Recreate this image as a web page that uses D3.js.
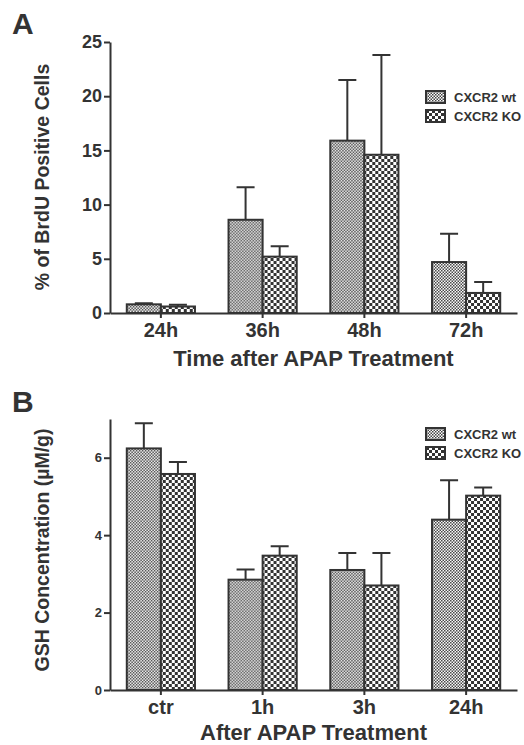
<!DOCTYPE html>
<meta charset="utf-8">
<style>
body { margin: 0; background: #fff; }
svg { font-family: "Liberation Sans", Arial, sans-serif; font-weight: bold; }
.axis path, .axis line { stroke: #333; stroke-width: 2px; }
.axis text { fill: #333; font-weight: bold; }
.bar { stroke: #333; stroke-width: 2px; }
.err { stroke: #333; stroke-width: 2px; fill: none; }
.title { fill: #333; }
</style>
<body>
<script src="https://cdn.jsdelivr.net/npm/d3@7"></script>
<script>
var series = ["CXCR2 wt", "CXCR2 KO"];

// panel A: BrdU
var catsA = ["24h", "36h", "48h", "72h"];
var wtA = [0.8, 8.6, 15.9, 4.7];
var wtErrA = [0.1, 3.0, 5.6, 2.6];
var koA = [0.6, 5.2, 14.6, 1.85];
var koErrA = [0.15, 0.95, 9.2, 1.0];
var ticksA = [0, 5, 10, 15, 20, 25];

// panel B: GSH
var catsB = ["ctr", "1h", "3h", "24h"];
var wtB = [6.24, 2.85, 3.1, 4.4];
var wtErrB = [0.65, 0.26, 0.44, 1.02];
var koB = [5.58, 3.47, 2.7, 5.02];
var koErrB = [0.31, 0.24, 0.84, 0.21];
var ticksB = [0, 2, 4, 6];

var width = 524, height = 745;

var svg = d3.select("body").append("svg")
    .attr("width", width)
    .attr("height", height);

var defs = svg.append("defs");
var pw = defs.append("pattern").attr("id", "pwt")
    .attr("patternUnits", "userSpaceOnUse").attr("width", 3).attr("height", 3);
pw.append("rect").attr("width", 3).attr("height", 3).attr("fill", "#fff");
pw.append("rect").attr("width", 1.5).attr("height", 1.5).attr("fill", "#444");
pw.append("rect").attr("x", 1.5).attr("y", 1.5).attr("width", 1.5).attr("height", 1.5).attr("fill", "#444");

var pk = defs.append("pattern").attr("id", "pko")
    .attr("patternUnits", "userSpaceOnUse").attr("width", 6).attr("height", 6);
pk.append("rect").attr("width", 6).attr("height", 6).attr("fill", "#fff");
pk.append("rect").attr("width", 3).attr("height", 3).attr("fill", "#333");
pk.append("rect").attr("x", 3).attr("y", 3).attr("width", 3).attr("height", 3).attr("fill", "#333");

var fills = ["url(#pwt)", "url(#pko)"];

function panel(o) {
  var g = svg.append("g");
  var x = d3.scaleBand().domain(o.cats).range([110, 517])
      .paddingInner(0.33).paddingOuter(0.165);
  var xs = d3.scaleBand().domain([0, 1]).range([0, x.bandwidth()]);
  var y = d3.scaleLinear().domain(o.domain).range([o.bottom, o.top]);

  var rows = o.cats.map(function(c, i) {
    return { cat: c, vals: [o.wt[i], o.ko[i]], errs: [o.wtErr[i], o.koErr[i]] };
  });

  var grp = g.selectAll(".grp").data(rows).enter().append("g")
      .attr("transform", function(d) { return "translate(" + x(d.cat) + ",0)"; });

  grp.selectAll(".err").data(function(d) {
      return d.vals.map(function(v, k) { return { k: k, v: v, e: d.errs[k] }; });
    }).enter().append("path")
      .attr("class", "err")
      .attr("d", function(d) {
        var cx = xs(d.k) + xs.bandwidth() / 2;
        return "M" + cx + "," + y(d.v) + "V" + y(d.v + d.e) +
               "M" + (cx - 9) + "," + y(d.v + d.e) + "H" + (cx + 9);
      });

  grp.selectAll(".bar").data(function(d) {
      return d.vals.map(function(v, k) { return { k: k, v: v }; });
    }).enter().append("rect")
      .attr("class", "bar")
      .attr("x", function(d) { return xs(d.k); })
      .attr("y", function(d) { return y(d.v); })
      .attr("width", xs.bandwidth())
      .attr("height", function(d) { return y(0) - y(d.v); })
      .attr("fill", function(d) { return fills[d.k]; });

  g.append("g").attr("class", "axis")
      .attr("transform", "translate(110,0)")
      .call(d3.axisLeft(y).tickValues(o.ticks).tickFormat(d3.format("d"))
        .tickSize(6).tickSizeOuter(0).tickPadding(2))
      .selectAll("text").style("font-size", o.yTickSize + "px");

  g.append("g").attr("class", "axis")
      .attr("transform", "translate(0," + o.bottom + ")")
      .call(d3.axisBottom(x).tickSize(5).tickSizeOuter(0).tickPadding(5))
      .selectAll("text").style("font-size", "20px");

  g.append("text").attr("class", "title")
      .attr("transform", "translate(49," + o.yTitleY + ") rotate(-90)")
      .attr("text-anchor", "middle")
      .style("font-size", "19.5px")
      .text(o.yTitle);

  g.append("text").attr("class", "title")
      .attr("x", 313.5).attr("y", o.xTitleY)
      .attr("text-anchor", "middle")
      .style("font-size", "22px")
      .text(o.xTitle);

  g.append("text").attr("class", "title")
      .attr("x", 12).attr("y", o.labelY)
      .style("font-size", "30px")
      .text(o.label);

  var lg = g.append("g").selectAll("g").data(series).enter().append("g")
      .attr("transform", function(d, i) { return "translate(426," + (o.legY + i * 19) + ")"; });
  lg.append("rect").attr("class", "bar")
      .attr("width", 19).attr("height", 12)
      .attr("fill", function(d, i) { return fills[i]; });
  lg.append("text").attr("class", "title")
      .attr("x", 28).attr("y", 11)
      .style("font-size", "13px")
      .text(function(d) { return d; });
}

panel({
  cats: catsA, wt: wtA, wtErr: wtErrA, ko: koA, koErr: koErrA,
  domain: [0, 25], ticks: ticksA, top: 42, bottom: 313, yTickSize: 18,
  yTitle: "% of BrdU Positive Cells", yTitleY: 177,
  xTitle: "Time after APAP Treatment", xTitleY: 366,
  label: "A", labelY: 34, legY: 91
});

panel({
  cats: catsB, wt: wtB, wtErr: wtErrB, ko: koB, koErr: koErrB,
  domain: [0, 7], ticks: ticksB, top: 419, bottom: 690, yTickSize: 13,
  yTitle: "GSH Concentration (\u00b5M/g)", yTitleY: 550,
  xTitle: "After APAP Treatment", xTitleY: 740,
  label: "B", labelY: 412, legY: 428
});
</script>
